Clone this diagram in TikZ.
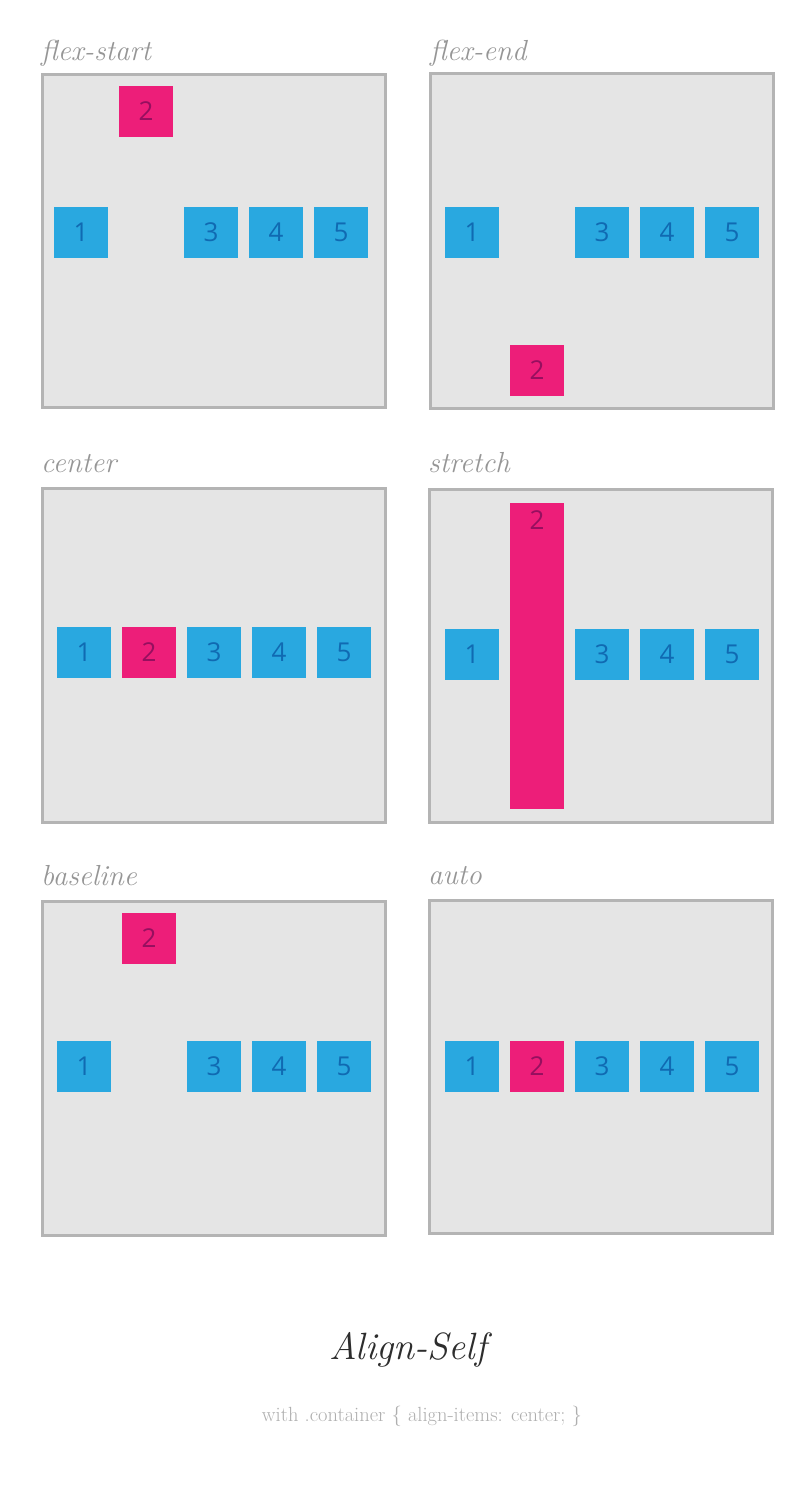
\documentclass[tikz,border=0pt]{standalone}
\usepackage{fontspec}
\usepackage{tikz}
\usetikzlibrary{positioning}
\newfontfamily\digitfont{Open Sans}

\definecolor{itemblue}{RGB}{41,168,224}
\definecolor{digitblue}{RGB}{16,106,178}
\definecolor{itempink}{RGB}{237,30,121}
\definecolor{digitpink}{RGB}{150,15,95}
\definecolor{panelfill}{RGB}{229,229,229}
\definecolor{paneldraw}{RGB}{180,180,180}
\definecolor{capgray}{RGB}{150,150,150}

\begin{document}
\begin{tikzpicture}[x=1pt,y=-1pt]
\tikzstyle{panel}=[rectangle, draw=paneldraw, line width=3pt, fill=panelfill, minimum width=343pt, minimum height=333pt, inner sep=0pt]
\tikzstyle{caption}=[anchor=base west, inner sep=0pt, text=capgray, font=\fontsize{29}{32}\selectfont\itshape]
\tikzstyle{item}=[rectangle, fill=itemblue, text=digitblue, minimum width=54pt, minimum height=51pt, inner sep=0pt, font=\digitfont\fontsize{26}{30}\selectfont]
\tikzstyle{pink}=[item, fill=itempink, text=digitpink]

	\useasboundingbox[fill=white] (0,0) rectangle (811,1500);

	% panels
	\node[panel] (p_fs) at (214,241) []{};
	\node[panel, minimum height=335pt] (p_fe) at (602,241) []{};
	\node[panel, minimum height=334pt] (p_c) at (214,655.5) []{};
	\node[panel] (p_s) at (601,656) []{};
	\node[panel, minimum height=334pt] (p_b) at (214,1068.5) []{};
	\node[panel] (p_a) at (601,1067) []{};

	\node[caption] (l_fs) at (41,60) []{flex-start};
	\node[caption] (l_fe) at (430,60) []{flex-end};
	\node[caption] (l_c) at (41,472) []{center};
	\node[caption] (l_s) at (428,472) []{stretch};
	\node[caption] (l_b) at (41,885) []{baseline};
	\node[caption] (l_a) at (428,884) []{auto};

	% flex-start
	\node[item] (fs_1) at (81,232.5) []{1};
	\node[pink] (fs_2) at (146,111.5) []{2};
	\node[item] (fs_3) at (211,232.5) []{3};
	\node[item] (fs_4) at (276,232.5) []{4};
	\node[item] (fs_5) at (341,232.5) []{5};

	% flex-end
	\node[item] (fe_1) at (472,232.5) []{1};
	\node[pink] (fe_2) at (537,370.5) []{2};
	\node[item] (fe_3) at (602,232.5) []{3};
	\node[item] (fe_4) at (667,232.5) []{4};
	\node[item] (fe_5) at (732,232.5) []{5};

	% center
	\node[item] (c_1) at (84,652.5) []{1};
	\node[pink] (c_2) at (149,652.5) []{2};
	\node[item] (c_3) at (214,652.5) []{3};
	\node[item] (c_4) at (279,652.5) []{4};
	\node[item] (c_5) at (344,652.5) []{5};

	% stretch
	\node[item] (s_1) at (472,654.5) []{1};
	\node[pink, minimum height=306pt] (s_2) at (537,656) []{};
	\node[below=8pt of s_2.north, inner sep=0pt, text=digitpink, font=\digitfont\fontsize{26}{30}\selectfont] (s_2t) []{2};
	\node[item] (s_3) at (602,654.5) []{3};
	\node[item] (s_4) at (667,654.5) []{4};
	\node[item] (s_5) at (732,654.5) []{5};

	% baseline
	\node[item] (b_1) at (84,1066.5) []{1};
	\node[pink] (b_2) at (149,938.5) []{2};
	\node[item] (b_3) at (214,1066.5) []{3};
	\node[item] (b_4) at (279,1066.5) []{4};
	\node[item] (b_5) at (344,1066.5) []{5};

	% auto
	\node[item] (a_1) at (472,1066.5) []{1};
	\node[pink] (a_2) at (537,1066.5) []{2};
	\node[item] (a_3) at (602,1066.5) []{3};
	\node[item] (a_4) at (667,1066.5) []{4};
	\node[item] (a_5) at (732,1066.5) []{5};

	% title
	\node[text={rgb,255:red,45;green,45;blue,45}, font=\fontsize{38}{42}\selectfont\itshape] (title) at (408,1350) []{Align-Self};
	\node[text={rgb,255:red,175;green,175;blue,175}, font=\fontsize{20.5}{24}\selectfont] (sub) at (422,1416) []{with .container \{ align-items: center; \}};

\end{tikzpicture}
\end{document}
